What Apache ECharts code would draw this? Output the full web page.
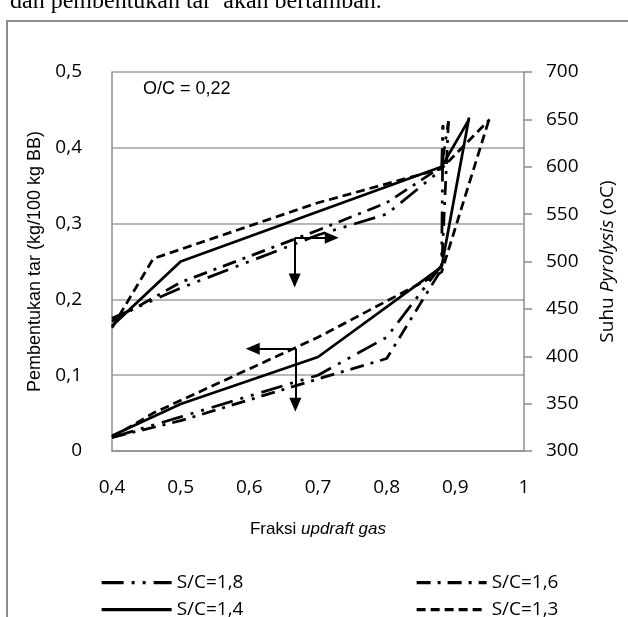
<!DOCTYPE html>
<html>
<head>
    <meta charset="UTF-8">
    <title>Fraksi updraft gas - tar dan suhu pirolisis</title>
    <script src="https://cdn.jsdelivr.net/npm/echarts@6/dist/echarts.min.js"></script>
    <style type="text/css">
        html, body { margin: 0; padding: 0; background: #fff; }
        #chart { width: 628px; height: 617px; }
    </style>
</head>
<body>
    <div id="chart"></div>

<script type="text/javascript">
    // nilai dibaca dari gambar
    // bagian atas: suhu pirolisis (sumbu kanan, oC)
    var xTemp18 = [0.4, 0.5, 0.7, 0.8, 0.88, 0.882];
    var temp18  = [440, 472, 528, 550, 597, 645];
    var xTemp16 = [0.4, 0.5, 0.7, 0.8, 0.88, 0.89];
    var temp16  = [437, 478, 533, 562, 600, 648];
    var xTemp14 = [0.4, 0.5, 0.88, 0.92];
    var temp14  = [432, 500, 600, 650];
    var xTemp13 = [0.4, 0.46, 0.7, 0.88, 0.95];
    var temp13  = [430, 503, 562, 598, 650];

    // bagian bawah: pembentukan tar (sumbu kiri, kg/100 kg BB)
    var xTar18 = [0.4, 0.5, 0.7, 0.8, 0.88, 0.882];
    var tar18  = [0.018, 0.045, 0.1, 0.15, 0.245, 0.43];
    var xTar16 = [0.4, 0.5, 0.7, 0.8, 0.88, 0.89];
    var tar16  = [0.018, 0.04, 0.095, 0.122, 0.24, 0.435];
    var xTar14 = [0.4, 0.5, 0.7, 0.88, 0.92];
    var tar14  = [0.02, 0.062, 0.124, 0.243, 0.44];
    var xTar13 = [0.4, 0.46, 0.7, 0.88, 0.95];
    var tar13  = [0.018, 0.05, 0.15, 0.236, 0.44];

    // panah penunjuk sumbu: [x, y] titik sudut dan ujung panah
    var arrowTemp = { corner: [0.666, 525], down: [0.666, 480], side: [0.72, 525] };
    var arrowTar  = { corner: [0.667, 0.135], down: [0.667, 0.061], side: [0.605, 0.135] };

    function pairs(xs, ys) {
        return xs.map(function (x, i) { return [x, ys[i]]; });
    }
    function comma(v) {
        return String(Math.round(v * 10) / 10).replace('.', ',');
    }

    var grey = '#8c8c8c';
    var tickFont = 'Open Sans';
    var arialFont = 'Liberation Sans';

    var dash18 = [22, 8, 3, 8, 3, 8];   // panjang - titik - titik
    var dash16 = [14, 7, 3, 7];         // garis - titik
    var dash13 = [9, 5];                // putus-putus

    function lineSeries(name, data, axis, dash) {
        return {
            name: name,
            type: 'line',
            yAxisIndex: axis,
            data: data,
            symbol: 'none',
            silent: true,
            lineStyle: { color: '#000', width: 2.75, type: dash || 'solid', cap: 'butt' },
            itemStyle: { color: '#000' }
        };
    }

    function arrowMark(a) {
        return {
            silent: true,
            symbol: ['none', 'triangle'],
            symbolSize: [12, 14],
            label: { show: false },
            lineStyle: { color: '#000', width: 2, type: 'solid' },
            data: [
                [{ coord: a.corner }, { coord: a.down }],
                [{ coord: a.corner }, { coord: a.side }]
            ]
        };
    }

    var s14temp = lineSeries('S/C=1,4', pairs(xTemp14, temp14), 1);
    s14temp.markLine = arrowMark(arrowTemp);
    var s14tar = lineSeries('S/C=1,4', pairs(xTar14, tar14), 0);
    s14tar.markLine = arrowMark(arrowTar);

    var legendText = { fontFamily: tickFont, fontSize: 19, color: '#000' };
    function legendAt(name, left, top) {
        return {
            data: [name], left: left, top: top,
            itemWidth: 70, itemHeight: 14,
            itemStyle: { opacity: 0 },
            lineStyle: { width: 3.25 },
            textStyle: legendText
        };
    }

    var myChart = echarts.init(document.getElementById('chart'), null, { renderer: 'canvas' });

    var option = {
        animation: false,
        backgroundColor: '#fff',
        grid: { left: 112, right: 104, top: 72, bottom: 166 },
        legend: [
            legendAt('S/C=1,8', 95, 568),
            legendAt('S/C=1,6', 410, 568),
            legendAt('S/C=1,4', 95, 595),
            legendAt('S/C=1,3', 410, 595)
        ],
        xAxis: {
            type: 'value',
            min: 0.4,
            max: 1,
            interval: 0.1,
            name: '{n|Fraksi }{i|updraft gas}',
            nameLocation: 'middle',
            nameGap: 70,
            nameTextStyle: {
                rich: {
                    n: { fontFamily: arialFont, fontSize: 17, color: '#000' },
                    i: { fontFamily: arialFont, fontSize: 17, color: '#000', fontStyle: 'italic' }
                }
            },
            axisLine: { show: true, lineStyle: { color: grey, width: 1.5 } },
            axisTick: { show: false },
            splitLine: { show: false },
            axisLabel: { margin: 27, fontFamily: tickFont, fontSize: 19, color: '#000', formatter: comma }
        },
        yAxis: [
            {
                type: 'value',
                min: 0,
                max: 0.5,
                interval: 0.1,
                position: 'left',
                name: 'Pembentukan tar (kg/100 kg BB)',
                nameLocation: 'middle',
                nameRotate: 90,
                nameGap: 66,
                nameTextStyle: { fontFamily: arialFont, fontSize: 18, color: '#000' },
                axisLine: { show: true, lineStyle: { color: grey, width: 1.5 } },
                axisTick: { show: false },
                splitLine: { show: true, lineStyle: { color: '#a0a0a0', width: 1.5 } },
                axisLabel: { margin: 30, fontFamily: tickFont, fontSize: 19, color: '#000', formatter: comma }
            },
            {
                type: 'value',
                min: 300,
                max: 700,
                interval: 50,
                position: 'right',
                name: '{n|Suhu }{i|Pyrolysis}{n| (oC)}',
                nameLocation: 'middle',
                nameRotate: 90,
                nameGap: 74,
                nameTextStyle: {
                    rich: {
                        n: { fontFamily: tickFont, fontSize: 19, color: '#000' },
                        i: { fontFamily: tickFont, fontSize: 19, color: '#000', fontStyle: 'italic' }
                    }
                },
                axisLine: { show: true, lineStyle: { color: grey, width: 1.5 } },
                axisTick: { show: true, inside: false, length: 8, lineStyle: { color: grey, width: 1.5 } },
                splitLine: { show: false },
                axisLabel: { margin: 22, fontFamily: tickFont, fontSize: 19, color: '#000' }
            }
        ],
        graphic: [
            {
                type: 'text',
                left: 10,
                top: -10,
                style: { text: 'dan pembentukan tar  akan bertambah.', font: '24px "Liberation Serif"', fill: '#000' }
            },
            {
                type: 'polyline',
                shape: { points: [[7, 640], [7, 21], [640, 21]] },
                style: { stroke: grey, lineWidth: 2, fill: null }
            },
            {
                type: 'text',
                left: 143,
                top: 80,
                style: { text: 'O/C = 0,22', font: '18px "Liberation Sans"', fill: '#000' }
            }
        ],
        series: [
            lineSeries('S/C=1,8', pairs(xTemp18, temp18), 1, dash18),
            lineSeries('S/C=1,6', pairs(xTemp16, temp16), 1, dash16),
            s14temp,
            lineSeries('S/C=1,3', pairs(xTemp13, temp13), 1, dash13),
            lineSeries('S/C=1,8', pairs(xTar18, tar18), 0, dash18),
            lineSeries('S/C=1,6', pairs(xTar16, tar16), 0, dash16),
            s14tar,
            lineSeries('S/C=1,3', pairs(xTar13, tar13), 0, dash13)
        ]
    };

    myChart.setOption(option);
</script>
</body>
</html>
